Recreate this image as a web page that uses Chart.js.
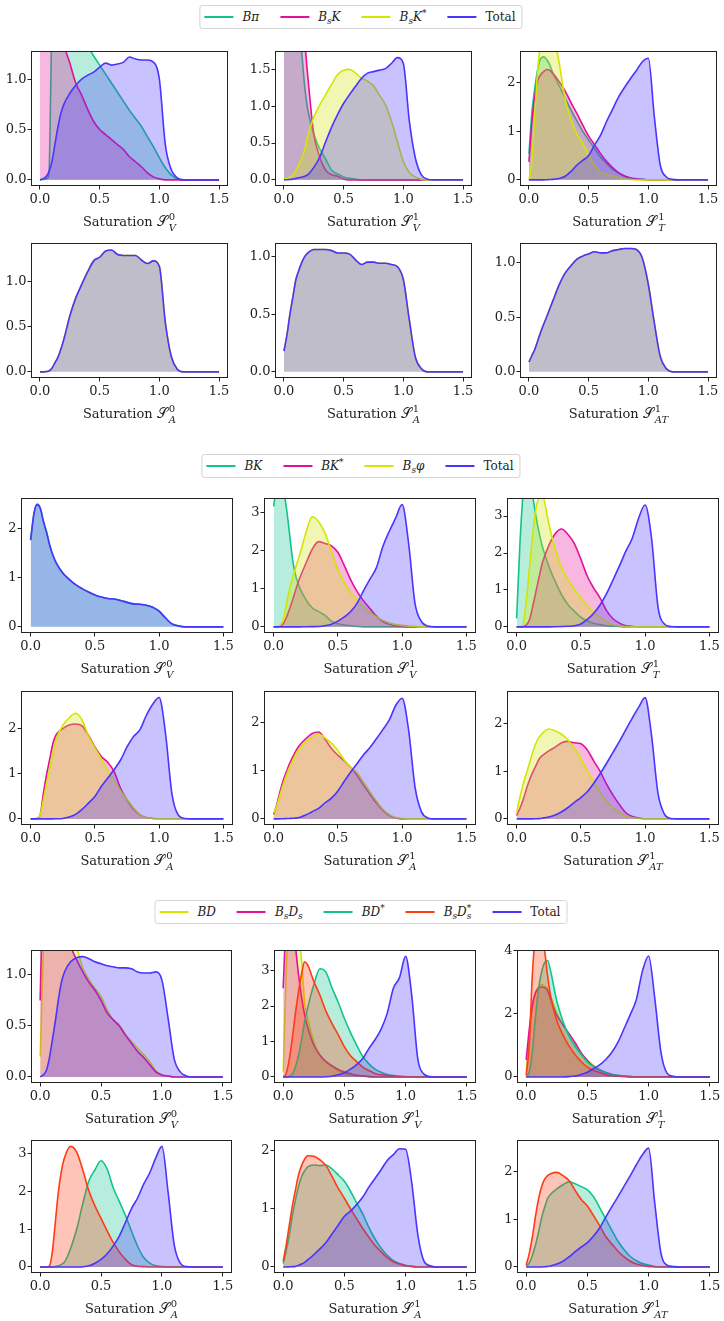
<!DOCTYPE html>
<html>
<head>
<meta charset="utf-8">
<script src="https://cdn.jsdelivr.net/npm/chart.js@4.4.1/dist/chart.umd.min.js"></script>
<style>
  body { margin: 0; background: #fff; width: 724px; height: 1321px; position: relative; overflow: hidden;
         font-family: "DejaVu Serif", serif; color: #222; }
  canvas { position: absolute; }
  .legend { position: absolute; left: 361px; transform: translateX(-50%); display: flex; align-items: center;
            border: 1px solid #d4d4d4; border-radius: 3px; padding: 0 6px 0 4px; height: 22px;
            font-size: 12px; white-space: nowrap; background: #fff; }
  .legend .it { display: flex; align-items: center; margin-right: 21px; }
  .legend .it:last-child { margin-right: 0; }
  .legend .sw { display: inline-block; width: 29px; height: 2px; margin-right: 9px; }
  .legend .lab { display: inline-block; line-height: 14px; }
  .m { font-style: italic; }
  .lsub { font-size: 9px; vertical-align: -3px; line-height: 0; }
  .lsup { font-size: 9px; vertical-align: 5px; line-height: 0; }
  .lss { display: inline-flex; flex-direction: column; font-size: 9px; line-height: 8px; vertical-align: 5px; }
  .xt { position: absolute; text-align: center; font-size: 13px; line-height: 18px; white-space: nowrap; }
  .cal { font-size: 14px; }
  .cal.i { font-style: italic; }
  .ss { display: inline-flex; flex-direction: column; font-size: 10px; line-height: 11px; vertical-align: 6px;
        margin-left: 1px; text-align: left; }
</style>
</head>
<body>
<div class="legend" style="top:5px">
  <span class="it"><span class="sw" style="background:#12c48b"></span><span class="lab"><span class="m">Bπ</span></span></span>
  <span class="it"><span class="sw" style="background:#e3119a"></span><span class="lab"><span class="m">B</span><span class="lsub m">s</span><span class="m">K</span></span></span>
  <span class="it"><span class="sw" style="background:#d2e600"></span><span class="lab"><span class="m">B</span><span class="lsub m">s</span><span class="m">K</span><span class="lsup">*</span></span></span>
  <span class="it"><span class="sw" style="background:#4a34ff"></span><span class="lab">Total</span></span>
</div>
<div class="legend" style="top:454px">
  <span class="it"><span class="sw" style="background:#12c48b"></span><span class="lab"><span class="m">BK</span></span></span>
  <span class="it"><span class="sw" style="background:#e3119a"></span><span class="lab"><span class="m">BK</span><span class="lsup">*</span></span></span>
  <span class="it"><span class="sw" style="background:#d2e600"></span><span class="lab"><span class="m">B</span><span class="lsub m">s</span><span class="m">φ</span></span></span>
  <span class="it"><span class="sw" style="background:#4a34ff"></span><span class="lab">Total</span></span>
</div>
<div class="legend" style="top:900px">
  <span class="it"><span class="sw" style="background:#d2e600"></span><span class="lab"><span class="m">BD</span></span></span>
  <span class="it"><span class="sw" style="background:#e3119a"></span><span class="lab"><span class="m">B</span><span class="lsub m">s</span><span class="m">D</span><span class="lsub m">s</span></span></span>
  <span class="it"><span class="sw" style="background:#12c48b"></span><span class="lab"><span class="m">BD</span><span class="lsup">*</span></span></span>
  <span class="it"><span class="sw" style="background:#ff3c14"></span><span class="lab"><span class="m">B</span><span class="lsub m">s</span><span class="m">D</span><span class="lss"><span>*</span><span class="m">s</span></span></span></span>
  <span class="it"><span class="sw" style="background:#4a34ff"></span><span class="lab">Total</span></span>
</div>
<script>
// saturation grid shared by every curve
const xs = [0, 0.025, 0.05, 0.075, 0.1, 0.125, 0.15, 0.175, 0.2,
  0.25, 0.3, 0.35, 0.4, 0.45, 0.5, 0.55, 0.6, 0.65, 0.7, 0.75, 0.8,
  0.85, 0.9, 0.95, 1.0, 1.05, 1.1, 1.15, 1.2, 1.25, 1.3, 1.35, 1.4, 1.45, 1.5];

// --- B -> pi, Bs -> K, Bs -> K*
const bpi_SV0 = [0,0.005,0.01,0.05,1.5,1.75,1.8,1.8,1.75, 1.65,1.55,1.43,1.33,1.23,1.14, 1.05,0.96,0.87,0.78,0.69,0.61, 0.53,0.43,0.33,0.22,0.12,0.05, 0.01,0,0,0,0,0,0,0];
const bsK_SV0 = [2.0,2.4,2.5,2.4,2.2,1.95,1.7,1.5,1.35, 1.16,0.96,0.84,0.7,0.58,0.5, 0.45,0.4,0.35,0.3,0.23,0.18, 0.13,0.07,0.03,0.01,0,0, 0,0,0,0,0,0,0,0];
const tot1_SV0 = [0,0.01,0.03,0.08,0.18,0.35,0.52,0.66,0.75, 0.86,0.94,1.0,1.04,1.07,1.12, 1.16,1.14,1.15,1.17,1.22,1.2, 1.19,1.19,1.17,1.0,0.35,0.1, 0.02,0,0,0,0,0,0,0];

const bpi_SV1 = [4.0,4.2,3.8,3.2,2.6,2.1,1.7,1.25,0.95, 0.62,0.42,0.28,0.13,0.08,0.04, 0.02,0.01,0,0,0,0, 0,0,0,0,0,0, 0,0,0,0,0,0,0,0];
const bsK_SV1 = [5,5,4.5,3.8,3.1,2.5,2.1,1.85,1.4, 0.62,0.31,0.13,0.07,0.05,0.01, 0,0,0,0,0,0, 0,0,0,0,0,0, 0,0,0,0,0,0,0,0];
const bsKst_SV1 = [0.01,0.02,0.04,0.07,0.13,0.2,0.3,0.42,0.6, 0.85,1.02,1.16,1.3,1.43,1.49, 1.5,1.45,1.38,1.34,1.28,1.15, 1.02,0.8,0.52,0.25,0.1,0.04, 0.01,0,0,0,0,0,0,0];
const tot1_SV1 = [0,0.002,0.005,0.01,0.02,0.03,0.04,0.05,0.07, 0.17,0.31,0.52,0.72,0.89,1.04, 1.16,1.27,1.38,1.45,1.47,1.49, 1.51,1.58,1.66,1.58,0.8,0.3, 0.07,0.01,0,0,0,0,0,0];

const bpi_ST1 = [0.54,1.4,1.9,2.3,2.5,2.53,2.47,2.36,2.2, 1.95,1.7,1.45,1.22,1.0,0.82, 0.64,0.47,0.34,0.22,0.14,0.08, 0.04,0.02,0.01,0,0,0, 0,0,0,0,0,0,0,0];
const bsK_ST1 = [0.37,1.2,1.75,2.05,2.17,2.23,2.27,2.25,2.19, 2.03,1.84,1.6,1.37,1.13,0.9, 0.72,0.54,0.38,0.25,0.15,0.08, 0.04,0.02,0.01,0,0,0, 0,0,0,0,0,0,0,0];
const bsKst_ST1 = [0,0.4,1.4,2.3,2.85,3.1,3.15,3.05,3.0, 2.45,1.7,1.25,0.95,0.75,0.52, 0.3,0.16,0.11,0.08,0.05,0.02, 0.01,0,0,0,0,0, 0,0,0,0,0,0,0,0];
const tot1_ST1 = [0,0,0,0,0,0,0.003,0.006,0.01, 0.03,0.07,0.17,0.3,0.4,0.5, 0.72,0.92,1.2,1.45,1.7,1.9, 2.08,2.25,2.43,2.5,1.3,0.3, 0.06,0.01,0,0,0,0,0,0];

// axial channels: only Bs -> K* contributes, so it equals the total
const tot1_SA0 = [0,0,0.003,0.01,0.04,0.1,0.16,0.25,0.36, 0.62,0.82,0.97,1.11,1.23,1.27, 1.34,1.35,1.3,1.29,1.29,1.29, 1.24,1.2,1.23,1.17,0.55,0.17, 0.03,0,0,0,0,0,0,0];
const tot1_SA1 = [0.18,0.32,0.5,0.65,0.8,0.88,0.95,1.0,1.03, 1.06,1.06,1.06,1.05,1.03,1.03, 1.02,0.97,0.93,0.95,0.95,0.94, 0.94,0.93,0.91,0.8,0.45,0.13, 0.03,0,0,0,0,0,0,0];
const tot1_SAT1 = [0.09,0.15,0.21,0.29,0.37,0.44,0.51,0.58,0.65, 0.79,0.9,0.97,1.03,1.06,1.08, 1.1,1.09,1.09,1.11,1.12,1.13, 1.13,1.12,1.04,0.8,0.45,0.14, 0.03,0,0,0,0,0,0,0];

// --- B -> K, B -> K*, Bs -> phi
const tot2_SV0 = [1.77,2.3,2.5,2.42,2.15,1.92,1.65,1.45,1.3, 1.1,0.97,0.86,0.78,0.71,0.65, 0.61,0.58,0.57,0.54,0.5,0.47, 0.46,0.44,0.4,0.32,0.18,0.06, 0.02,0,0,0,0,0,0,0];

const bK_SV1 = [3.15,3.7,3.8,3.6,3.1,2.4,1.7,1.3,1.05, 0.72,0.5,0.4,0.3,0.15,0.08, 0.05,0.03,0.01,0,0,0, 0,0,0,0,0,0, 0,0,0,0,0,0,0,0];
const bKst_SV1 = [0,0,0.02,0.08,0.25,0.48,0.73,1.0,1.25, 1.65,2.03,2.23,2.18,2.12,1.95, 1.6,1.23,0.92,0.68,0.48,0.28, 0.14,0.07,0.03,0.01,0,0, 0,0,0,0,0,0,0,0];
const bsPhi_SV1 = [0,0.01,0.05,0.18,0.6,1.0,1.3,1.6,1.85, 2.45,2.88,2.75,2.45,1.97,1.5, 1.15,0.9,0.71,0.52,0.37,0.26, 0.17,0.1,0.06,0.04,0.02,0.01, 0,0,0,0,0,0,0,0];
const tot2_SV1 = [0,0,0,0,0,0,0,0,0, 0.002,0.005,0.01,0.03,0.07,0.15, 0.26,0.4,0.62,0.95,1.25,1.55, 2.1,2.5,2.85,3.2,2.2,0.62, 0.14,0.02,0,0,0,0,0,0];

const bK_ST1 = [0.23,2.2,3.6,4.2,4.1,3.55,3.0,2.55,2.18, 1.65,1.23,0.87,0.6,0.42,0.26, 0.16,0.1,0.06,0.03,0.02,0.01, 0,0,0,0,0,0, 0,0,0,0,0,0,0,0];
const bKst_ST1 = [0,0,0.01,0.05,0.19,0.55,0.95,1.35,1.73, 2.2,2.52,2.65,2.5,2.25,1.83, 1.37,1.05,0.78,0.44,0.22,0.1, 0.03,0.01,0,0,0,0, 0,0,0,0,0,0,0,0];
const bsPhi_ST1 = [0,0,0.05,0.7,1.6,2.5,3.2,3.5,3.55, 2.8,2.1,1.6,1.28,1.02,0.78, 0.58,0.4,0.26,0.13,0.06,0.03, 0.01,0,0,0,0,0, 0,0,0,0,0,0,0,0];
const tot2_ST1 = [0,0,0,0,0,0,0,0,0, 0,0.003,0.008,0.015,0.03,0.08, 0.2,0.37,0.6,0.9,1.27,1.65, 2.05,2.4,2.95,3.3,2.4,0.55, 0.08,0.01,0,0,0,0,0,0];

const bKst_SA0 = [0,0,0.01,0.1,0.58,1.0,1.35,1.7,1.88, 2.01,2.09,2.11,2.07,1.86,1.6, 1.39,1.26,1.05,0.68,0.42,0.22, 0.09,0.03,0.01,0,0,0, 0,0,0,0,0,0,0,0];
const bsPhi_SA0 = [0,0,0.02,0.1,0.43,0.8,1.15,1.5,1.78, 2.08,2.25,2.35,2.2,1.85,1.58, 1.33,1.08,0.85,0.63,0.43,0.25, 0.1,0.03,0.01,0,0,0, 0,0,0,0,0,0,0,0];
const tot2_SA0 = [0,0,0,0,0,0,0,0,0.003, 0.01,0.04,0.1,0.21,0.35,0.5, 0.72,0.91,1.1,1.31,1.6,1.83, 1.98,2.3,2.55,2.7,1.9,0.55, 0.08,0.01,0,0,0,0,0,0];

const bKst_SA1 = [0.09,0.3,0.57,0.8,0.98,1.15,1.29,1.42,1.52, 1.66,1.77,1.8,1.65,1.46,1.32, 1.2,1.07,0.9,0.7,0.51,0.33, 0.18,0.07,0.02,0,0,0, 0,0,0,0,0,0,0,0];
const bsPhi_SA1 = [0.12,0.28,0.5,0.72,0.91,1.08,1.22,1.35,1.45, 1.6,1.69,1.76,1.68,1.57,1.42, 1.22,1.07,0.95,0.76,0.56,0.37, 0.2,0.09,0.03,0.01,0,0, 0,0,0,0,0,0,0,0];
const tot2_SA1 = [0,0,0.002,0.004,0.007,0.01,0.013,0.017,0.03, 0.08,0.15,0.22,0.33,0.43,0.58, 0.78,0.97,1.15,1.33,1.48,1.66, 1.85,2.05,2.35,2.5,1.85,0.67, 0.15,0.02,0,0,0,0,0,0];

const bKst_SAT1 = [0.07,0.22,0.4,0.62,0.82,0.98,1.12,1.26,1.33, 1.43,1.51,1.6,1.63,1.6,1.58, 1.45,1.22,1.0,0.73,0.5,0.3, 0.13,0.05,0.02,0,0,0, 0,0,0,0,0,0,0,0];
const bsPhi_SAT1 = [0.13,0.45,0.72,0.95,1.17,1.4,1.59,1.72,1.8, 1.89,1.85,1.78,1.66,1.48,1.27, 1.0,0.79,0.56,0.37,0.23,0.13, 0.06,0.03,0.01,0,0,0, 0,0,0,0,0,0,0,0];
const tot2_SAT1 = [0,0,0,0,0,0,0.003,0.006,0.015, 0.04,0.08,0.15,0.24,0.35,0.45, 0.57,0.75,0.95,1.17,1.4,1.63, 1.88,2.12,2.35,2.55,1.75,0.54, 0.1,0.01,0,0,0,0,0,0];

// --- B -> D, Bs -> Ds, B -> D*, Bs -> Ds*
const bD_SV0 = [0.2,1.2,2.2,2.8,3.0,2.9,2.6,2.3,1.95, 1.55,1.28,1.07,0.96,0.87,0.79, 0.66,0.56,0.51,0.42,0.35,0.28, 0.22,0.15,0.06,0.02,0.01,0, 0,0,0,0,0,0,0,0];
const bsDs_SV0 = [0.75,2.0,2.8,3.0,2.9,2.6,2.3,2.0,1.7, 1.3,1.15,1.03,0.93,0.85,0.75, 0.63,0.56,0.5,0.41,0.33,0.25, 0.19,0.12,0.05,0.02,0.01,0, 0,0,0,0,0,0,0,0];
const tot3_SV0 = [0,0.02,0.06,0.18,0.36,0.55,0.76,0.93,1.03, 1.13,1.17,1.18,1.16,1.13,1.11, 1.09,1.08,1.07,1.07,1.06,1.03, 1.02,1.02,1.03,0.95,0.58,0.18, 0.05,0.01,0,0,0,0,0,0];

const bD_SV1 = [0.15,3.0,4.8,5.0,4.7,4.0,3.3,2.1,1.65, 1.0,0.6,0.43,0.31,0.17,0.1, 0.06,0.04,0.02,0.01,0,0, 0,0,0,0,0,0, 0,0,0,0,0,0,0,0];
const bsDs_SV1 = [2.5,4.5,5.0,4.6,3.7,2.9,2.25,1.75,1.4, 0.9,0.62,0.43,0.31,0.21,0.14, 0.09,0.05,0.03,0.01,0,0, 0,0,0,0,0,0, 0,0,0,0,0,0,0,0];
const bDst_SV1 = [0,0,0.02,0.08,0.28,0.6,1.05,1.55,1.95, 2.6,3.05,2.95,2.5,2.1,1.65, 1.25,0.9,0.58,0.37,0.22,0.13, 0.07,0.04,0.02,0.01,0,0, 0,0,0,0,0,0,0,0];
const bsDsst_SV1 = [0,0.1,0.5,1.1,1.8,2.4,2.9,3.25,3.16, 2.7,2.31,1.85,1.5,1.19,0.85, 0.6,0.43,0.28,0.18,0.1,0.06, 0.04,0.03,0.01,0,0,0, 0,0,0,0,0,0,0,0];
const tot3_SV1 = [0,0,0,0,0,0,0,0,0, 0,0,0.005,0.02,0.06,0.12, 0.22,0.35,0.52,0.8,1.05,1.35, 1.8,2.5,2.8,3.4,2.3,0.5, 0.08,0.01,0,0,0,0,0,0];

const bD_ST1 = [0.17,1.2,2.15,2.65,2.85,2.92,2.87,2.78,2.55, 2.05,1.65,1.3,0.97,0.72,0.52, 0.37,0.24,0.14,0.08,0.05,0.03, 0.01,0,0,0,0,0, 0,0,0,0,0,0,0,0];
const bsDs_ST1 = [0.54,1.5,2.25,2.65,2.8,2.84,2.82,2.73,2.45, 1.95,1.65,1.37,1.08,0.76,0.52, 0.33,0.22,0.14,0.08,0.04,0.02, 0.01,0,0,0,0,0, 0,0,0,0,0,0,0,0];
const bDst_ST1 = [0,0.15,0.8,1.85,2.75,3.3,3.61,3.68,3.34, 2.4,1.76,1.3,0.97,0.71,0.47, 0.32,0.22,0.13,0.08,0.05,0.03, 0.01,0,0,0,0,0, 0,0,0,0,0,0,0,0];
const bsDsst_ST1 = [0.05,1.0,3.2,4.4,4.6,4.3,4.0,3.2,2.55, 1.78,1.33,0.98,0.7,0.48,0.31, 0.21,0.14,0.07,0.04,0.02,0.01, 0,0,0,0,0,0, 0,0,0,0,0,0,0,0];
const tot3_ST1 = [0,0,0,0,0,0,0,0,0, 0,0,0.01,0.03,0.08,0.15, 0.26,0.38,0.55,0.78,1.1,1.53, 1.97,2.45,3.35,3.82,2.5,0.8, 0.12,0.02,0,0,0,0,0,0];

const bDst_SA0 = [0,0,0,0,0,0.01,0.03,0.07,0.13, 0.49,1.0,1.68,2.28,2.58,2.82, 2.6,2.1,1.74,1.37,0.95,0.55, 0.25,0.1,0.03,0.01,0,0, 0,0,0,0,0,0,0,0];
const bsDsst_SA0 = [0,0,0,0.02,0.4,1.2,2.0,2.55,2.9, 3.2,3.05,2.58,2.02,1.62,1.29, 0.96,0.65,0.4,0.2,0.06,0.02, 0.01,0,0,0,0,0, 0,0,0,0,0,0,0,0];
const tot3_SA0 = [0,0,0,0,0,0,0,0,0, 0,0,0.005,0.03,0.1,0.2, 0.35,0.56,0.82,1.18,1.55,1.83, 2.2,2.5,2.9,3.2,2.0,0.6, 0.1,0.01,0,0,0,0,0,0];

const bDst_SA1 = [0.06,0.28,0.55,0.88,1.15,1.38,1.55,1.65,1.72, 1.75,1.74,1.75,1.68,1.58,1.47, 1.3,1.1,0.91,0.68,0.48,0.32, 0.2,0.11,0.06,0.03,0.01,0, 0,0,0,0,0,0,0,0];
const bsDsst_SA1 = [0.1,0.38,0.72,1.05,1.32,1.58,1.74,1.85,1.91, 1.9,1.84,1.74,1.55,1.35,1.18, 1.0,0.83,0.66,0.51,0.37,0.26, 0.16,0.09,0.05,0.02,0.01,0, 0,0,0,0,0,0,0,0];
const tot3_SA1 = [0,0,0.003,0.005,0.01,0.03,0.05,0.08,0.12, 0.21,0.31,0.42,0.57,0.72,0.87, 0.96,1.07,1.2,1.37,1.52,1.67, 1.83,1.93,2.03,2.02,1.45,0.55, 0.1,0.02,0,0,0,0,0,0];

const bDst_SAT1 = [0.01,0.08,0.24,0.45,0.72,1.02,1.25,1.44,1.53, 1.64,1.73,1.79,1.75,1.69,1.62, 1.48,1.25,1.01,0.77,0.54,0.36, 0.22,0.13,0.07,0.04,0.01,0, 0,0,0,0,0,0,0,0];
const bsDsst_SAT1 = [0.04,0.28,0.62,1.05,1.42,1.68,1.84,1.92,1.96, 1.99,1.92,1.82,1.61,1.42,1.28, 1.08,0.87,0.64,0.48,0.33,0.21, 0.12,0.06,0.03,0.01,0,0, 0,0,0,0,0,0,0,0];
const tot3_SAT1 = [0,0,0,0,0,0,0.005,0.01,0.02, 0.06,0.12,0.21,0.32,0.42,0.51, 0.65,0.82,1.05,1.27,1.48,1.7, 1.92,2.15,2.36,2.5,1.35,0.3, 0.04,0.01,0,0,0,0,0,0];

// axis labels: [superscript, subscript] for each panel, row by row
const titles = [['0','V'], ['1','V'], ['1','T'], ['0','A'], ['1','A'], ['1','AT']];
const xTicks = [0, 0.5, 1.0, 1.5];

const COLORS = { green: '#12c48b', magenta: '#e3119a', yellow: '#d2e600', blue: '#4a34ff', red: '#ff3c14' };
function fillOf(hex) {
  const n = parseInt(hex.slice(1), 16);
  return 'rgba(' + (n >> 16) + ',' + ((n >> 8) & 255) + ',' + (n & 255) + ',0.3)';
}

// null = channel does not contribute to this saturation (not drawn)
const groups = [
  {
    species: [['Bπ', 'green'], ['BsK', 'magenta'], ['BsK*', 'yellow'], ['Total', 'blue']],
    cols: [[31, 228], [275, 472], [520, 717]],
    rows: [[51, 186], [243, 378]],
    panels: [
      { yMax: 1.28, step: 0.5, curves: [bpi_SV0, bsK_SV0, null, tot1_SV0] },
      { yMax: 1.75, step: 0.5, curves: [bpi_SV1, bsK_SV1, bsKst_SV1, tot1_SV1] },
      { yMax: 2.65, step: 1, curves: [bpi_ST1, bsK_ST1, bsKst_ST1, tot1_ST1] },
      { yMax: 1.428, step: 0.5, curves: [null, null, tot1_SA0, tot1_SA0] },
      { yMax: 1.116, step: 0.5, curves: [null, null, tot1_SA1, tot1_SA1] },
      { yMax: 1.18, step: 0.5, curves: [null, null, tot1_SAT1, tot1_SAT1] }
    ]
  },
  {
    species: [['BK', 'green'], ['BK*', 'magenta'], ['Bsφ', 'yellow'], ['Total', 'blue']],
    cols: [[21, 233], [264, 476], [507, 719]],
    rows: [[498, 633], [691, 825]],
    panels: [
      { yMax: 2.63, step: 1, curves: [tot2_SV0, null, null, tot2_SV0] },
      { yMax: 3.37, step: 1, curves: [bK_SV1, bKst_SV1, bsPhi_SV1, tot2_SV1] },
      { yMax: 3.49, step: 1, curves: [bK_ST1, bKst_ST1, bsPhi_ST1, tot2_ST1] },
      { yMax: 2.845, step: 1, curves: [null, bKst_SA0, bsPhi_SA0, tot2_SA0] },
      { yMax: 2.65, step: 1, curves: [null, bKst_SA1, bsPhi_SA1, tot2_SA1] },
      { yMax: 2.69, step: 1, curves: [null, bKst_SAT1, bsPhi_SAT1, tot2_SAT1] }
    ]
  },
  {
    species: [['BD', 'yellow'], ['BsDs', 'magenta'], ['BD*', 'green'], ['BsDs*', 'red'], ['Total', 'blue']],
    cols: [[31, 232], [274, 476], [517, 719]],
    rows: [[950, 1083], [1140, 1273]],
    panels: [
      { yMax: 1.245, step: 0.5, curves: [bD_SV0, bsDs_SV0, null, null, tot3_SV0] },
      { yMax: 3.58, step: 1, curves: [bD_SV1, bsDs_SV1, bDst_SV1, bsDsst_SV1, tot3_SV1] },
      { yMax: 4.01, step: 2, curves: [bD_ST1, bsDs_ST1, bDst_ST1, bsDsst_ST1, tot3_ST1] },
      { yMax: 3.37, step: 1, curves: [null, null, bDst_SA0, bsDsst_SA0, tot3_SA0] },
      { yMax: 2.18, step: 1, curves: [null, null, bDst_SA1, bsDsst_SA1, tot3_SA1] },
      { yMax: 2.67, step: 1, curves: [null, null, bDst_SAT1, bsDsst_SAT1, tot3_SAT1] }
    ]
  }
];

// the calligraphic S may be missing from the installed fonts
function glyphOk(ch) {
  const ctx = document.createElement('canvas').getContext('2d');
  ctx.font = '40px "DejaVu Serif", "DejaVu Sans", serif';
  return Math.abs(ctx.measureText(ch).width - ctx.measureText('\uE000').width) > 0.5;
}
const calS = glyphOk('\u{1D4AE}') ? '<span class="cal">\u{1D4AE}</span>' : '<span class="cal i">S</span>';

const framePlugin = {
  id: 'frame',
  afterDraw(chart) {
    const a = chart.chartArea, c = chart.ctx;
    c.save();
    c.strokeStyle = '#222';
    c.lineWidth = 1;
    c.strokeRect(a.left + 0.5, a.top + 0.5, a.right - a.left - 1, a.bottom - a.top - 1);
    c.restore();
  }
};

const tickFont = { family: 'DejaVu Serif', size: 13 };
const PAD_L = 46, PAD_T = 12, PAD_R = 10, PAD_B = 32;

groups.forEach(g => {
  g.panels.forEach((p, j) => {
    const col = g.cols[j % 3], row = g.rows[Math.floor(j / 3)];
    const L = col[0], R = col[1], T = row[0], B = row[1];
    const cv = document.createElement('canvas');
    cv.width = R - L + PAD_L + PAD_R;
    cv.height = B - T + PAD_T + PAD_B;
    cv.style.left = (L - PAD_L) + 'px';
    cv.style.top = (T - PAD_T) + 'px';
    document.body.appendChild(cv);

    const n = g.species.length;
    const datasets = [];
    g.species.forEach((s, i) => {
      if (!p.curves[i]) return;
      datasets.push({
        label: s[0],
        data: xs.map((x, k) => ({ x: x, y: p.curves[i][k] })),
        borderColor: COLORS[s[1]],
        backgroundColor: fillOf(COLORS[s[1]]),
        fill: 'origin',
        borderWidth: 1.6,
        pointRadius: 0,
        cubicInterpolationMode: 'monotone',
        order: n - 1 - i
      });
    });

    new Chart(cv, {
      type: 'line',
      data: { datasets: datasets },
      options: {
        animation: false,
        responsive: false,
        events: [],
        layout: { padding: { left: 0, top: PAD_T, right: PAD_R, bottom: 0 } },
        plugins: { legend: { display: false }, tooltip: { enabled: false } },
        scales: {
          x: {
            type: 'linear',
            min: -0.075,
            max: 1.575,
            afterFit: s => { s.height = PAD_B; },
            afterBuildTicks: s => { s.ticks = xTicks.map(v => ({ value: v })); },
            ticks: { autoSkip: false, maxRotation: 0, padding: 2, color: '#222', font: tickFont,
                     callback: v => Number(v).toFixed(1) },
            grid: { drawOnChartArea: false, drawTicks: true, tickLength: 3.5, tickColor: '#222' },
            border: { display: false }
          },
          y: {
            type: 'linear',
            min: -p.yMax * 0.05 / 1.05,
            max: p.yMax,
            afterFit: s => { s.width = PAD_L; },
            ticks: { stepSize: p.step, includeBounds: false, padding: 1, color: '#222', font: tickFont,
                     callback: v => p.step < 1 ? Number(v).toFixed(1) : String(Math.round(v)) },
            grid: { drawOnChartArea: false, drawTicks: true, tickLength: 3.5, tickColor: '#222' },
            border: { display: false }
          }
        }
      },
      plugins: [framePlugin]
    });

    const t = titles[j];
    const lab = document.createElement('div');
    lab.className = 'xt';
    lab.style.left = L + 'px';
    lab.style.width = (R - L) + 'px';
    lab.style.top = (B + 25) + 'px';
    lab.innerHTML = 'Saturation ' + calS +
      '<span class="ss"><span>' + t[0] + '</span><span class="m">' + t[1] + '</span></span>';
    document.body.appendChild(lab);
  });
});
</script>
</body>
</html>
